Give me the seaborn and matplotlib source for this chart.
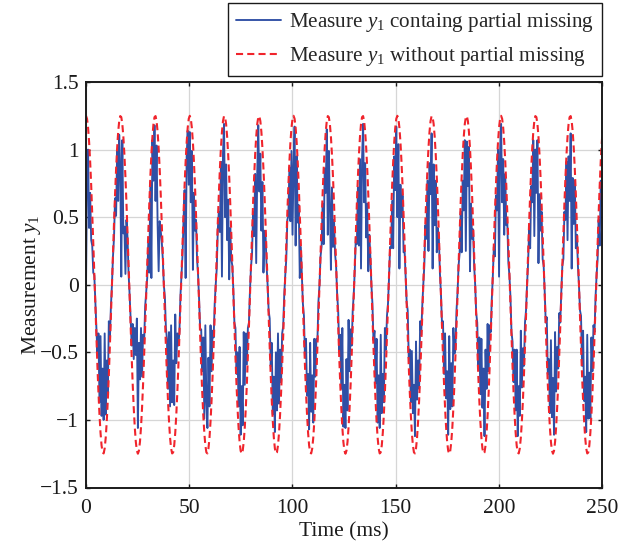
import numpy as np
import pandas as pd
import matplotlib
matplotlib.use("Agg")
import matplotlib.pyplot as plt
import seaborn as sns

# ---------------- data ----------------
# sampling interval of the measurement sequence (ms)
sample_period_ms = 0.5028

# measurement y1 without partial missing
measure_full = [
    1.250, 1.228, 1.162, 1.055, 0.911, 0.735, 0.532, 0.311, 0.078, -0.157,
    -0.386, -0.602, -0.797, -0.963, -1.095, -1.189, -1.240, -1.248, -1.211, -1.131,
    -1.011, -0.856, -0.670, -0.460, -0.234, 0.000, 0.234, 0.460, 0.670, 0.856,
    1.011, 1.131, 1.211, 1.248, 1.240, 1.189, 1.095, 0.963, 0.797, 0.602,
    0.386, 0.157, -0.078, -0.311, -0.532, -0.735, -0.911, -1.055, -1.162, -1.228,
    -1.250, -1.228, -1.162, -1.055, -0.911, -0.735, -0.532, -0.311, -0.078, 0.157,
    0.386, 0.602, 0.797, 0.963, 1.095, 1.189, 1.240, 1.248, 1.211, 1.131,
    1.011, 0.856, 0.670, 0.460, 0.234, 0.000, -0.234, -0.460, -0.670, -0.856,
    -1.011, -1.131, -1.211, -1.248, -1.240, -1.189, -1.095, -0.963, -0.797, -0.602,
    -0.386, -0.157, 0.078, 0.311, 0.532, 0.735, 0.911, 1.055, 1.162, 1.228,
    1.250, 1.228, 1.162, 1.055, 0.911, 0.735, 0.532, 0.311, 0.078, -0.157,
    -0.386, -0.602, -0.797, -0.963, -1.095, -1.189, -1.240, -1.248, -1.211, -1.131,
    -1.011, -0.856, -0.670, -0.460, -0.234, 0.000, 0.234, 0.460, 0.670, 0.856,
    1.011, 1.131, 1.211, 1.248, 1.240, 1.189, 1.095, 0.963, 0.797, 0.602,
    0.386, 0.157, -0.078, -0.311, -0.532, -0.735, -0.911, -1.055, -1.162, -1.228,
    -1.250, -1.228, -1.162, -1.055, -0.911, -0.735, -0.532, -0.311, -0.078, 0.157,
    0.386, 0.602, 0.797, 0.963, 1.095, 1.189, 1.240, 1.248, 1.211, 1.131,
    1.011, 0.856, 0.670, 0.460, 0.234, 0.000, -0.234, -0.460, -0.670, -0.856,
    -1.011, -1.131, -1.211, -1.248, -1.240, -1.189, -1.095, -0.963, -0.797, -0.602,
    -0.386, -0.157, 0.078, 0.311, 0.532, 0.735, 0.911, 1.055, 1.162, 1.228,
    1.250, 1.228, 1.162, 1.055, 0.911, 0.735, 0.532, 0.311, 0.078, -0.157,
    -0.386, -0.602, -0.797, -0.963, -1.095, -1.189, -1.240, -1.248, -1.211, -1.131,
    -1.011, -0.856, -0.670, -0.460, -0.234, 0.000, 0.234, 0.460, 0.670, 0.856,
    1.011, 1.131, 1.211, 1.248, 1.240, 1.189, 1.095, 0.963, 0.797, 0.602,
    0.386, 0.157, -0.078, -0.311, -0.532, -0.735, -0.911, -1.055, -1.162, -1.228,
    -1.250, -1.228, -1.162, -1.055, -0.911, -0.735, -0.532, -0.311, -0.078, 0.157,
    0.386, 0.602, 0.797, 0.963, 1.095, 1.189, 1.240, 1.248, 1.211, 1.131,
    1.011, 0.856, 0.670, 0.460, 0.234, 0.000, -0.234, -0.460, -0.670, -0.856,
    -1.011, -1.131, -1.211, -1.248, -1.240, -1.189, -1.095, -0.963, -0.797, -0.602,
    -0.386, -0.157, 0.078, 0.311, 0.532, 0.735, 0.911, 1.055, 1.162, 1.228,
    1.250, 1.228, 1.162, 1.055, 0.911, 0.735, 0.532, 0.311, 0.078, -0.157,
    -0.386, -0.602, -0.797, -0.963, -1.095, -1.189, -1.240, -1.248, -1.211, -1.131,
    -1.011, -0.856, -0.670, -0.460, -0.234, 0.000, 0.234, 0.460, 0.670, 0.856,
    1.011, 1.131, 1.211, 1.248, 1.240, 1.189, 1.095, 0.963, 0.797, 0.602,
    0.386, 0.157, -0.078, -0.311, -0.532, -0.735, -0.911, -1.055, -1.162, -1.228,
    -1.250, -1.228, -1.162, -1.055, -0.911, -0.735, -0.532, -0.311, -0.078, 0.157,
    0.386, 0.602, 0.797, 0.963, 1.095, 1.189, 1.240, 1.248, 1.211, 1.131,
    1.011, 0.856, 0.670, 0.460, 0.234, 0.000, -0.234, -0.460, -0.670, -0.856,
    -1.011, -1.131, -1.211, -1.248, -1.240, -1.189, -1.095, -0.963, -0.797, -0.602,
    -0.386, -0.157, 0.078, 0.311, 0.532, 0.735, 0.911, 1.055, 1.162, 1.228,
    1.250, 1.228, 1.162, 1.055, 0.911, 0.735, 0.532, 0.311, 0.078, -0.157,
    -0.386, -0.602, -0.797, -0.963, -1.095, -1.189, -1.240, -1.248, -1.211, -1.131,
    -1.011, -0.856, -0.670, -0.460, -0.234, 0.000, 0.234, 0.460, 0.670, 0.856,
    1.011, 1.131, 1.211, 1.248, 1.240, 1.189, 1.095, 0.963, 0.797, 0.602,
    0.386, 0.157, -0.078, -0.311, -0.532, -0.735, -0.911, -1.055, -1.162, -1.228,
    -1.250, -1.228, -1.162, -1.055, -0.911, -0.735, -0.532, -0.311, -0.078, 0.157,
    0.386, 0.602, 0.797, 0.963, 1.095, 1.189, 1.240, 1.248, 1.211, 1.131,
    1.011, 0.856, 0.670, 0.460, 0.234, 0.000, -0.234, -0.460, -0.670, -0.856,
    -1.011, -1.131, -1.211, -1.248, -1.240, -1.189, -1.095, -0.963, -0.797, -0.602,
    -0.386, -0.157, 0.078, 0.311, 0.532, 0.735, 0.911, 1.055, 1.162,
]

# measurement y1 containing partial missing
measure_missing = [
    0.00, 0.80, 1.00, 0.42, 0.68, 0.33, 0.29, 0.09, 0.07, -0.13,
    -0.35, -0.51, -0.36, -0.87, -0.38, -0.97, -0.62, -1.00, -0.36, -0.96,
    -0.56, -0.81, -0.27, -0.41, -0.16, 0.00, 0.21, 0.35, 0.64, 0.51,
    0.99, 0.62, 1.11, 0.87, 0.06, 1.07, 0.38, 0.43, 0.08, 0.48,
    0.35, 0.09, -0.07, -0.25, -0.45, -0.29, -0.55, -0.32, -0.52, -0.25,
    -1.06, -0.43, -0.70, -0.32, -0.68, -0.37, -0.43, -0.16, -0.06, 0.05,
    0.31, 0.09, 0.76, 0.05, 1.07, 0.77, 1.18, 0.62, 1.03, 0.45,
    0.10, 0.47, 0.40, 0.32, 0.19, 0.00, -0.09, -0.32, -0.40, -0.77,
    -0.35, -0.90, -0.30, -0.87, -0.56, -0.89, -0.22, -0.58, -0.36, -0.45,
    -0.35, -0.08, 0.07, 0.22, 0.48, 0.70, 0.05, 0.95, 1.14, 0.74,
    1.13, 0.61, 0.99, 0.11, 0.68, 0.40, 0.48, 0.19, 0.07, -0.11,
    -0.33, -0.33, -0.64, -0.39, -0.99, -0.30, -0.87, -1.06, -0.54, -0.90,
    -0.30, -0.64, -0.34, -0.39, -0.14, 0.00, 0.12, 0.41, 0.54, 0.39,
    0.91, 0.06, 0.97, 1.19, 0.50, 0.89, 0.33, 0.63, 0.04, 0.42,
    0.19, 0.14, -0.04, -0.28, -0.32, -0.66, -0.50, -0.90, -0.46, -1.11,
    -0.75, -1.04, -0.35, -0.74, -0.36, -0.59, -0.32, -0.28, -0.04, 0.13,
    0.23, 0.54, 0.36, 0.82, 0.16, 0.83, 1.18, 0.69, 0.97, 0.40,
    0.76, 0.09, 0.40, 0.37, 0.14, 0.00, -0.19, -0.25, -0.60, -0.43,
    -0.96, -0.68, -1.09, -0.50, -0.93, -0.36, -0.88, -0.48, -0.72, -0.36,
    -0.31, -0.08, 0.07, 0.19, 0.48, 0.51, 0.87, 0.47, 0.99, 0.37,
    0.88, 1.17, 0.29, 0.95, 0.46, 0.59, 0.05, 0.28, 0.06, -0.14,
    -0.23, -0.54, -0.40, -0.82, -0.66, -1.07, -0.43, -0.94, -0.67, -1.02,
    -0.40, -0.68, -0.40, -0.41, -0.12, 0.00, 0.21, 0.28, 0.60, 0.30,
    0.86, 0.68, 1.15, 0.37, 0.99, 0.59, 0.11, 0.72, 0.28, 0.48,
    0.23, 0.14, -0.07, -0.19, -0.48, -0.37, -0.77, -0.32, -1.05, -0.74,
    -1.06, -0.55, -0.93, -0.26, -0.64, -0.33, -0.45, -0.19, -0.07, 0.11,
    0.35, 0.30, 0.72, 0.29, 0.93, 0.12, 0.93, 1.19, 0.61, 0.90,
    0.35, 0.60, 0.10, 0.37, 0.21, 0.00, -0.14, -0.41, -0.34, -0.73,
    -0.40, -1.02, -0.67, -1.06, -0.37, -0.95, -0.66, -0.87, -0.32, -0.48,
    -0.23, -0.14, 0.05, 0.28, 0.27, 0.62, 0.27, 0.95, 0.70, 1.17,
    0.50, 1.04, 0.12, 0.74, 0.50, 0.66, 0.24, 0.25, 0.05, -0.13,
    -0.19, -0.54, -0.48, -0.87, -0.49, -0.95, -0.74, -1.12, -0.42, -0.85,
    -0.56, -0.77, -0.27, -0.37, -0.16, 0.00, 0.14, 0.44, 0.34, 0.77,
    0.25, 0.90, 0.67, 1.12, 0.12, 0.89, 0.44, 0.77, 0.24, 0.42,
    0.35, 0.09, -0.06, -0.28, -0.27, -0.66, -0.36, -0.84, -0.64, -1.11,
    -0.38, -0.92, -0.58, -0.90, -0.32, -0.51, -0.48, -0.19, -0.06, 0.14,
    0.23, 0.54, 0.24, 0.77, 0.55, 1.07, 0.25, 1.06, 0.73, 1.02,
    0.10, 0.60, 0.34, 0.41, 0.14, 0.00, -0.21, -0.28, -0.60, -0.39,
    -0.81, -0.40, -0.91, -0.62, -1.12, -0.48, -0.77, -0.29, -0.64, -0.30,
    -0.35, -0.11, 0.06, 0.28, 0.21, 0.66, 0.55, 1.00, 0.06, 0.98,
    1.19, 0.61, 0.93, 0.37, 0.82, 0.44, 0.45, 0.16, 0.07, -0.09,
    -0.35, -0.42, -0.72, -0.48, -0.93, -0.48, -1.12, -0.75, -0.97, -0.34,
    -0.76, -0.47, -0.60, -0.28, -0.19, 0.00, 0.16, 0.41, 0.27, 0.73,
    0.61, 1.07, 0.36, 1.00, 0.68, 1.07, 0.16, 0.67, 0.40, 0.54,
    0.19, 0.14, -0.05, -0.28, -0.24, -0.66, -0.55, -0.95, -0.41, -0.98,
    -0.69, -1.11, -0.35, -0.79, -0.46, -0.62, -0.21, -0.28, -0.05, 0.14,
    0.19, 0.54, 0.48, 0.91, 0.33, 0.95, 0.62, 1.12, 0.12, 0.79,
    0.45, 0.77, 0.27, 0.37, 0.14, 0.00, -0.19, -0.23, -0.60, -0.34,
    -0.86, -0.68, -1.09, -0.37, -0.99, -0.65, -0.99, -0.39, -0.64, -0.30,
    -0.35, -0.09, 0.07, 0.19, 0.48, 0.29, 0.77, 0.58, 1.05,
]

x_ticks = [0, 50, 100, 150, 200, 250]
y_ticks = [-1.5, -1.0, -0.5, 0.0, 0.5, 1.0, 1.5]
y_tick_labels = ["\u22121.5", "\u22121", "\u22120.5", "0", "0.5", "1", "1.5"]
label_missing = r"Measure $y_1$ containg partial missing"
label_full = r"Measure $y_1$ without partial missing"

# ---------------- style ----------------
sns.set_theme(style="ticks")
plt.rcParams["font.family"] = ["Liberation Serif", "DejaVu Serif"]
plt.rcParams["mathtext.fontset"] = "custom"
plt.rcParams["mathtext.rm"] = "Liberation Serif"
plt.rcParams["mathtext.it"] = "Liberation Serif:italic"
plt.rcParams["axes.unicode_minus"] = True

FS = 15.5
LEG_FS = 15.2
blue = "#2F4FA5"
red = "#F0242C"
ink = "#1a1a1a"

n = len(measure_full)
time_ms = np.arange(n) * sample_period_ms
df = pd.DataFrame({
    "time": time_ms,
    "missing": measure_missing[:n],
    "full": measure_full,
})

fig = plt.figure(figsize=(6.3, 5.46), dpi=100)
ax = fig.add_axes([86 / 630, 1 - 487.5 / 546, (602 - 86) / 630, (487.5 - 82) / 546])

sns.lineplot(data=df, x="time", y="missing", ax=ax, color=blue, lw=1.35,
             label=label_missing, sort=False, estimator=None)
sns.lineplot(data=df, x="time", y="full", ax=ax, color=red, lw=1.5,
             linestyle=(0, (3.4, 2.0)), label=label_full, sort=False,
             estimator=None)

ax.set_xlim(0, 250)
ax.set_ylim(-1.5, 1.5)
ax.set_xticks(x_ticks)
ax.set_xticklabels([str(v) for v in x_ticks])
ax.set_yticks(y_ticks)
ax.set_yticklabels(y_tick_labels)
ax.grid(True, color="#d6d6d6", lw=0.9)
ax.set_axisbelow(True)
for s in ax.spines.values():
    s.set_visible(True)
    s.set_color(ink)
    s.set_linewidth(1.4)
ax.tick_params(direction="in", top=True, right=True, length=3.2, width=1.0,
               labelsize=FS, colors=ink)
ax.tick_params(axis="x", pad=8)
ax.tick_params(axis="y", pad=5)
ax.set_xlabel("Time (ms)", fontsize=FS, color=ink, labelpad=3.5)
ax.set_ylabel(r"Measurement $y_1$", fontsize=FS, color=ink)
ax.yaxis.set_label_coords(-0.084, 0.5)

leg = ax.legend(loc="lower right", bbox_to_anchor=(1.0, 1.0 + 6 / 405),
                borderaxespad=0, fontsize=LEG_FS, frameon=True, fancybox=False,
                framealpha=1, edgecolor=ink, handlelength=2.15,
                handletextpad=0.35, borderpad=0.38, labelspacing=0.5)
leg.get_frame().set_linewidth(1.0)

fig.savefig("out.png", dpi=100)
